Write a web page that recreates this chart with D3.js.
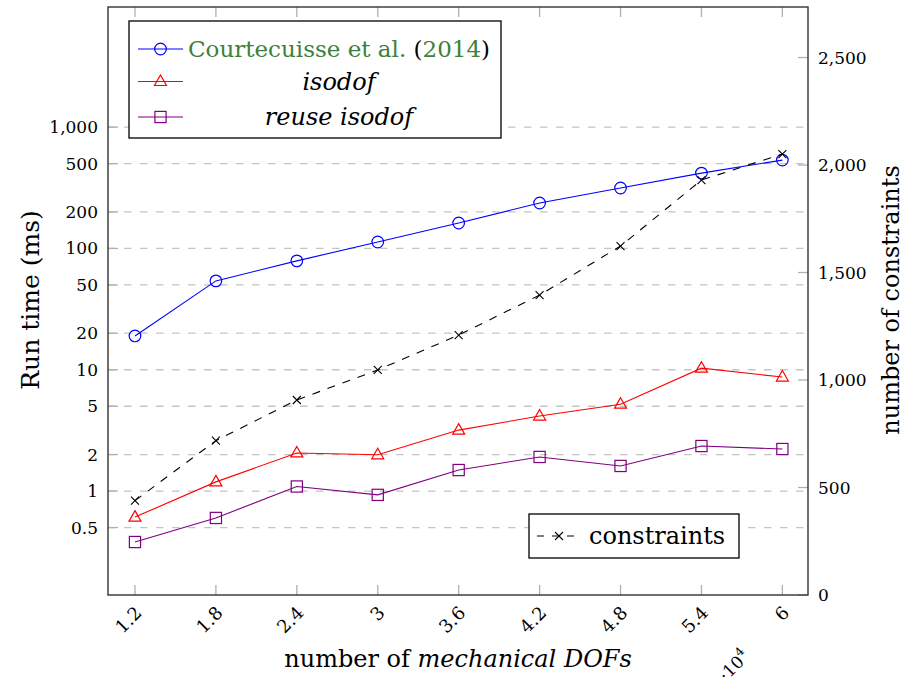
<!DOCTYPE html>
<html>
<head>
<meta charset="utf-8">
<script src="https://cdn.jsdelivr.net/npm/d3@7"></script>
<style>
  body { margin: 0; background: #fff; }
  text { font-family: "DejaVu Serif", serif; }
</style>
</head>
<body>
<div id="chart"></div>
<script>
// data (x in units of 10^4 DOFs)
var dofs = [1.2, 1.8, 2.4, 3, 3.6, 4.2, 4.8, 5.4, 6];
var courtecuisse = [19, 54, 79, 113, 162, 237, 315, 418, 535];
var isodof = [0.61, 1.19, 2.06, 1.99, 3.18, 4.15, 5.2, 10.3, 8.7];
var reuseIsodof = [0.38, 0.60, 1.09, 0.93, 1.49, 1.91, 1.61, 2.35, 2.22];
var constraints = [439, 718, 907, 1047, 1209, 1395, 1623, 1930, 2051];

var leftTicks = [0.5, 1, 2, 5, 10, 20, 50, 100, 200, 500, 1000];
var rightTicks = [0, 500, 1000, 1500, 2000, 2500];

var width = 905, height = 686;
var plot = {left: 108, right: 808, top: 7, bottom: 595};

var svg = d3.select("#chart").append("svg")
  .attr("width", width)
  .attr("height", height);

var x = d3.scaleLinear().domain([1.0, 6.19]).range([plot.left, plot.right]);
var yLeft = d3.scaleLog().domain([0.139, 9780]).range([plot.bottom, plot.top]);
var yRight = d3.scaleLinear().domain([0, 2735]).range([plot.bottom, plot.top]);

var fmt = d3.format(",");

// grid lines
svg.append("g").selectAll("line")
  .data(leftTicks).enter().append("line")
  .attr("x1", plot.left).attr("x2", plot.right)
  .attr("y1", function(d) { return yLeft(d); })
  .attr("y2", function(d) { return yLeft(d); })
  .style("stroke", "#c4c4c4")
  .style("stroke-width", 1.3)
  .style("stroke-dasharray", "7.5,8.5");

// ticks (inside)
var tickColor = "#b0b0b0";
var tk = svg.append("g").style("stroke", tickColor).style("stroke-width", 1.3);
dofs.forEach(function(d) {
  tk.append("line").attr("x1", x(d)).attr("x2", x(d)).attr("y1", plot.bottom).attr("y2", plot.bottom - 10);
  tk.append("line").attr("x1", x(d)).attr("x2", x(d)).attr("y1", plot.top).attr("y2", plot.top + 10);
});
leftTicks.forEach(function(d) {
  tk.append("line").attr("x1", plot.left).attr("x2", plot.left + 10).attr("y1", yLeft(d)).attr("y2", yLeft(d));
});
rightTicks.forEach(function(d) {
  tk.append("line").attr("x1", plot.right).attr("x2", plot.right - 10).attr("y1", yRight(d)).attr("y2", yRight(d));
});

// frame
svg.append("rect")
  .attr("x", plot.left).attr("y", plot.top)
  .attr("width", plot.right - plot.left).attr("height", plot.bottom - plot.top)
  .style("fill", "none").style("stroke", "#333").style("stroke-width", 1.4);

// tick labels
svg.append("g").selectAll("text")
  .data(leftTicks).enter().append("text")
  .attr("x", plot.left - 10)
  .attr("y", function(d) { return yLeft(d) + 6; })
  .attr("text-anchor", "end")
  .style("font-size", "17px")
  .text(function(d) { return fmt(d); });

svg.append("g").selectAll("text")
  .data(rightTicks).enter().append("text")
  .attr("x", plot.right + 10)
  .attr("y", function(d) { return yRight(d) + 6; })
  .attr("text-anchor", "start")
  .style("font-size", "17px")
  .text(function(d) { return fmt(d); });

svg.append("g").selectAll("text")
  .data(dofs).enter().append("text")
  .attr("transform", function(d) { return "translate(" + (x(d) + 8) + "," + 614 + ") rotate(-45)"; })
  .attr("text-anchor", "end")
  .style("font-size", "18px")
  .text(function(d) { return d; });

var sc = svg.append("text")
  .attr("transform", "translate(726,682) rotate(-45)")
  .attr("text-anchor", "start")
  .style("font-size", "17px");
sc.append("tspan").text("\u00b710");
sc.append("tspan").attr("dy", -8).style("font-size", "12px").text("4");

// axis labels
svg.append("text")
  .attr("transform", "translate(39,300) rotate(-90)")
  .attr("text-anchor", "middle")
  .style("font-size", "25px")
  .text("Run time (ms)");

svg.append("text")
  .attr("transform", "translate(899,300) rotate(-90)")
  .attr("text-anchor", "middle")
  .style("font-size", "24px")
  .text("number of constraints");

var xl = svg.append("text")
  .attr("x", 458).attr("y", 667)
  .attr("text-anchor", "middle")
  .style("font-size", "24px");
xl.append("tspan").text("number of ");
xl.append("tspan").style("font-style", "italic").text("mechanical DOFs");

// series
var series = [
  {name: "courtecuisse", values: courtecuisse, color: "#0000ff", mark: "circle", axis: yLeft},
  {name: "isodof", values: isodof, color: "#ff0000", mark: "triangle", axis: yLeft},
  {name: "reuse", values: reuseIsodof, color: "#800080", mark: "square", axis: yLeft},
  {name: "constraints", values: constraints, color: "#000000", mark: "cross", axis: yRight, dash: "8,8"}
];

function drawMark(g, type, color, cx, cy) {
  if (type === "circle") {
    g.append("circle").attr("cx", cx).attr("cy", cy).attr("r", 5.8)
      .style("fill", "none").style("stroke", color).style("stroke-width", 1.2);
  } else if (type === "square") {
    g.append("rect").attr("x", cx - 5.6).attr("y", cy - 5.6).attr("width", 11.2).attr("height", 11.2)
      .style("fill", "none").style("stroke", color).style("stroke-width", 1.2);
  } else if (type === "triangle") {
    g.append("path").attr("d", "M" + cx + "," + (cy - 6.5) + "L" + (cx + 6) + "," + (cy + 4) + "L" + (cx - 6) + "," + (cy + 4) + "Z")
      .style("fill", "none").style("stroke", color).style("stroke-width", 1.2);
  } else if (type === "cross") {
    g.append("path").attr("d", "M" + (cx - 4) + "," + (cy - 4) + "L" + (cx + 4) + "," + (cy + 4) + "M" + (cx - 4) + "," + (cy + 4) + "L" + (cx + 4) + "," + (cy - 4))
      .style("fill", "none").style("stroke", color).style("stroke-width", 1.1);
  }
}

series.forEach(function(s) {
  var line = d3.line()
    .x(function(d, i) { return x(dofs[i]); })
    .y(function(d) { return s.axis(d); });
  svg.append("path")
    .datum(s.values)
    .attr("d", line)
    .style("fill", "none")
    .style("stroke", s.color)
    .style("stroke-width", 1.1)
    .style("stroke-dasharray", s.dash || null);
  var g = svg.append("g");
  s.values.forEach(function(v, i) {
    drawMark(g, s.mark, s.color, x(dofs[i]), s.axis(v));
  });
});

// main legend
var lg = svg.append("g");
lg.append("rect").attr("x", 129).attr("y", 21).attr("width", 372).attr("height", 117)
  .style("fill", "#fff").style("stroke", "#000").style("stroke-width", 1.3);
var legendRows = [
  {s: series[0], y: 49},
  {s: series[1], y: 81.5},
  {s: series[2], y: 117}
];
legendRows.forEach(function(r) {
  lg.append("line").attr("x1", 138).attr("x2", 183).attr("y1", r.y).attr("y2", r.y)
    .style("stroke", r.s.color).style("stroke-width", 1.1);
  drawMark(lg, r.s.mark, r.s.color, 160.5, r.y);
});
var green = "#3c803c";
var t0 = lg.append("text").attr("x", 339).attr("y", 57).attr("text-anchor", "middle").style("font-size", "23px");
t0.append("tspan").style("fill", green).text("Courtecuisse et al. ");
t0.append("tspan").text("(");
t0.append("tspan").style("fill", green).text("2014");
t0.append("tspan").text(")");
lg.append("text").attr("x", 339).attr("y", 89.5).attr("text-anchor", "middle")
  .style("font-size", "24px").style("font-style", "italic").text("isodof");
lg.append("text").attr("x", 339).attr("y", 125).attr("text-anchor", "middle")
  .style("font-size", "24px").style("font-style", "italic").text("reuse isodof");

// constraints legend
var lg2 = svg.append("g");
lg2.append("rect").attr("x", 529).attr("y", 514).attr("width", 210).attr("height", 44)
  .style("fill", "#fff").style("stroke", "#000").style("stroke-width", 1.3);
lg2.append("line").attr("x1", 537).attr("x2", 580).attr("y1", 536).attr("y2", 536)
  .style("stroke", "#000").style("stroke-width", 1.1).style("stroke-dasharray", "7,8");
drawMark(lg2, "cross", "#000", 559, 536);
lg2.append("text").attr("x", 589).attr("y", 544).style("font-size", "24px").text("constraints");
</script>
</body>
</html>
